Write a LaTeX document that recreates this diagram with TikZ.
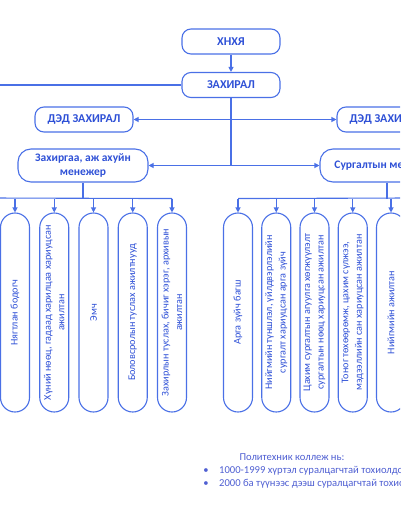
\documentclass[tikz,border=0pt]{standalone}
\usepackage{fontspec}
\setmainfont{Carlito}
\usetikzlibrary{arrows.meta,positioning}
\definecolor{orgline}{HTML}{4A70E6}
\definecolor{orgtext}{HTML}{2E50D6}
\definecolor{notetext}{HTML}{4F5FD2}

\begin{document}
\begin{tikzpicture}[x=1pt,y=-1pt,>={Triangle[length=5pt,width=5pt]},
  link/.style={draw=orgline, line width=1.1pt},
  topbox/.style={draw=orgline, line width=1.1pt, rounded corners=9pt,
    minimum width=98pt, minimum height=25pt, inner sep=0pt,
    text=orgtext, font=\bfseries\fontsize{12}{14}\selectfont},
  mgrbox/.style={topbox, minimum width=130pt, minimum height=33pt,
    rounded corners=13pt, align=center, font=\bfseries\fontsize{11.5}{14}\selectfont},
  staffbox/.style={draw=orgline, line width=1.1pt, rounded corners=14.5pt,
    rotate=90, minimum width=199pt, minimum height=29pt, inner sep=0pt,
    align=center, text=orgtext, font=\fontsize{10.2}{13.5}\selectfont},
  note/.style={inner sep=0pt, text=notetext, font=\fontsize{10.6}{12}\selectfont}]
  \useasboundingbox (0,0) rectangle (400,516);
  \clip (0,0) rectangle (400,516);

  % top of the chart
  \node[topbox] (hnxya) at (231,41.5) {ХНХЯ};
  \node[topbox] (director) at (231,85) {ЗАХИРАЛ};
  \node[topbox] (depl) at (84,119.5) {ДЭД ЗАХИРАЛ};
  \node[topbox] (depr) at (386,119.5) {ДЭД ЗАХИРАЛ};
  \node[mgrbox] (admin) at (83,165.5) {Захиргаа, аж ахуйн\\менежер};
  \node[mgrbox] (train) at (385,165.5) {Сургалтын менежер};

  \draw[link,->] (hnxya) -- (director);
  \coordinate (offl) at (-10,85);
  \draw[link] (offl) -- (director);
  \coordinate (split) at (231,165.5);
  \draw[link] (director) -- (split);
  \draw[link,->] (director.south |- depl) -- (depl);
  \draw[link,->] (director.south |- depr) -- (depr);
  \draw[link,->] (split) -- (admin);
  \draw[link,->] (split) -- (train);

  % staff under the managers
  \path (admin.south) ++(0,16) coordinate (lbus);
  \path (train.south) ++(2,16) coordinate (rbus);
  \coordinate (lbusw) at (-10,198);
  \coordinate (rbuse) at (410,198);
  \draw[link] (admin.south) -- (lbus);
  \draw[link] (train.south -| rbus) -- (rbus);

  \foreach \i/\txt in {1/{Нягтлан бодогч},
      2/{Хүний нөөц, гадаад харилцаа хариуцсан\\ажилтан},
      3/{Эмч},
      4/{Боловсролын туслах ажилтнууд},
      5/{Захирлын туслах, бичиг хэрэг, архивын\\ажилтан}} {
    \node[staffbox] (l\i) at ({15+39.25*(\i-1)},312.5) {\txt};
    \draw[link,->] (l\i |- lbus) -- (l\i);
  }
  \draw[link] (lbusw) -- (l5 |- lbus);

  \foreach \i/\txt in {1/{Арга зүйч багш},
      2/{Нийгмийн түншлэл, үйлдвэрлэлийн\\сургалт хариуцсан арга зүйч},
      3/{Цахим сургалтын агуулга хөгжүүлэлт\\сургалтын нөөц хариуцсан ажилтан},
      4/{Тоног төхөөрөмж, цахим сүлжээ,\\мэдээллийн сан хариуцсан ажилтан},
      5/{Нийгмийн ажилтан}} {
    \node[staffbox] (r\i) at ({238+38.25*(\i-1)},312.5) {\txt};
    \draw[link,->] (r\i |- rbus) -- (r\i);
  }
  \draw[link] (r1 |- rbus) -- (rbuse);

  % note below
  \node[note, anchor=base] (notehead) at (292,460) {Политехник коллеж нь:};
  \node[note, anchor=base] (dot1) at (206,473) {•};
  \node[note, anchor=base west] (item1) at (219,473) {1000-1999 хүртэл суралцагчтай тохиолдолд};
  \node[note, anchor=base] (dot2) at (206,486) {•};
  \node[note, anchor=base west] (item2) at (219,486) {2000 ба түүнээс дээш суралцагчтай тохиолдолд};
\end{tikzpicture}
\end{document}
